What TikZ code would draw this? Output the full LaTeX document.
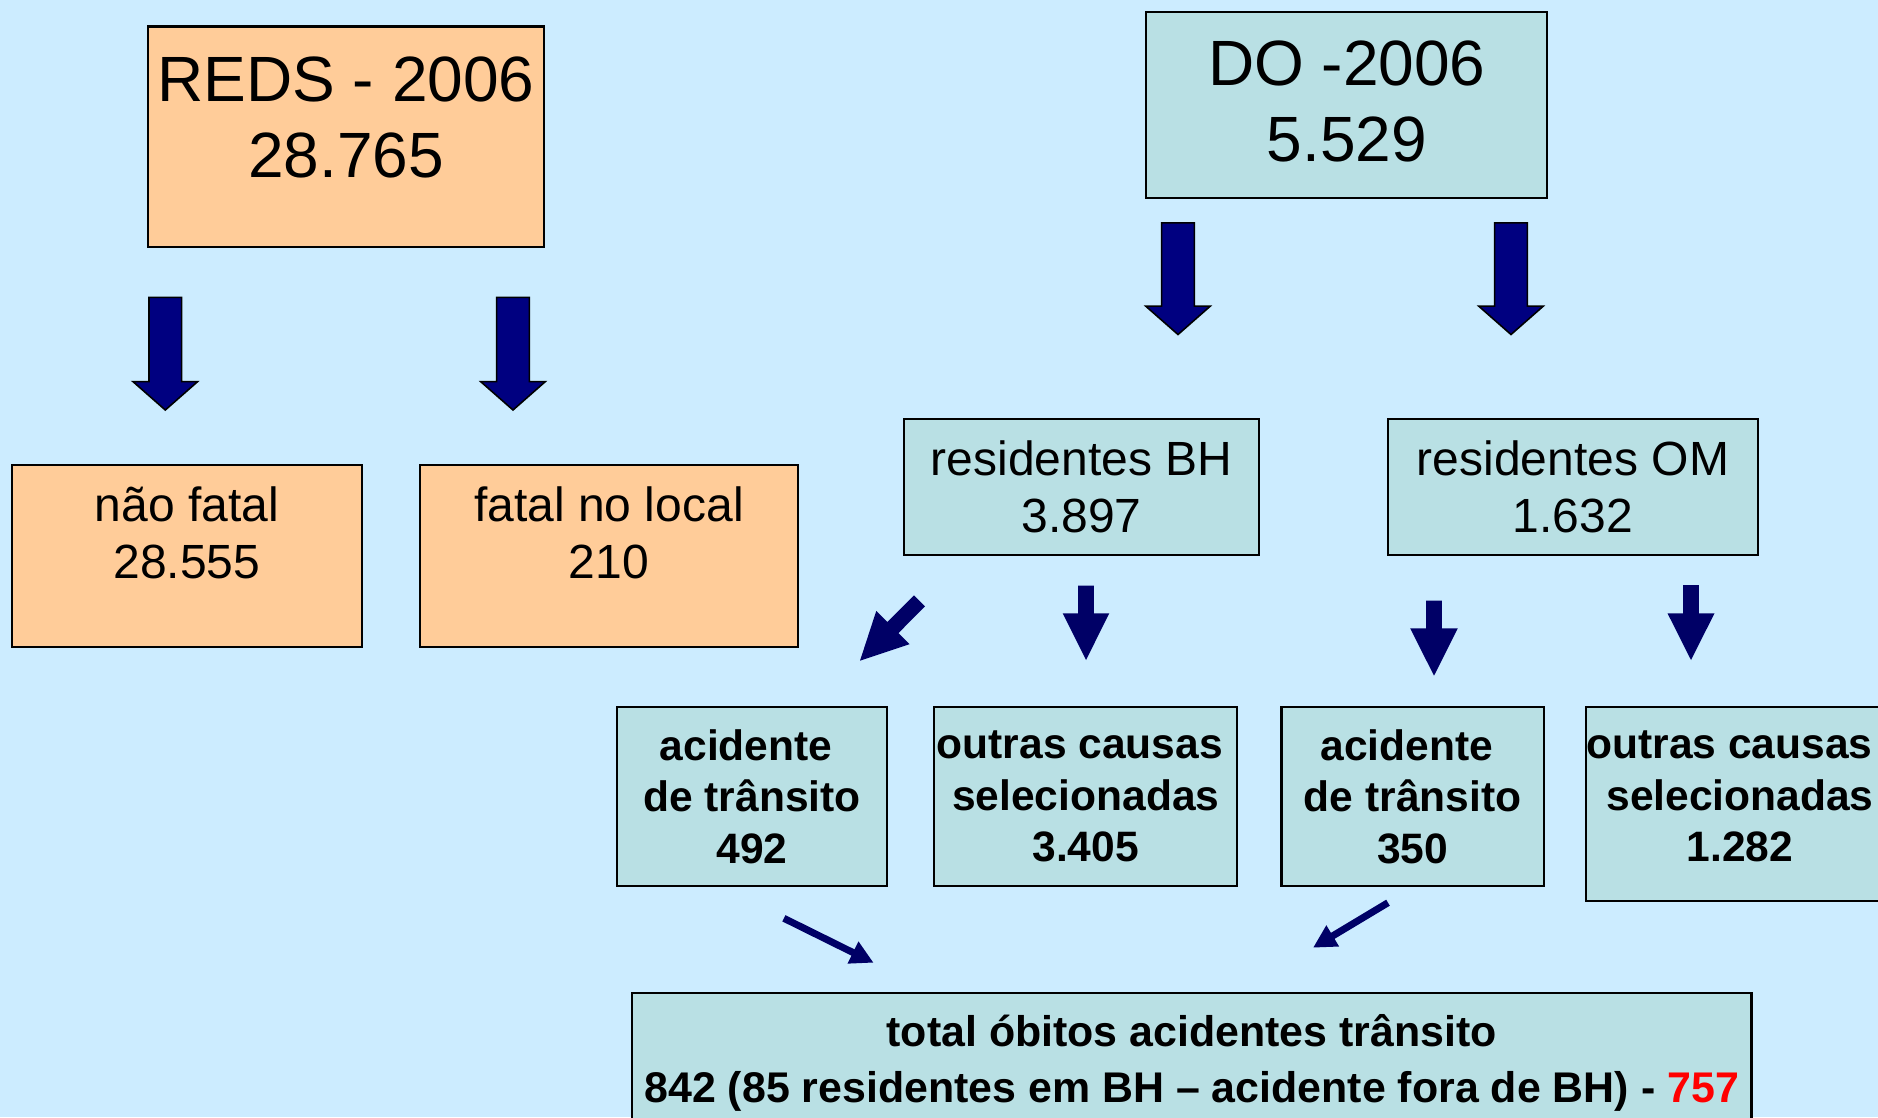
\documentclass[tikz,border=0pt]{standalone}
\usepackage{fontspec}
\setmainfont{Liberation Sans}
\usetikzlibrary{positioning,calc,arrows.meta}

\definecolor{bgblue}{RGB}{204,236,255}
\definecolor{peach}{RGB}{255,204,153}
\definecolor{paleteal}{RGB}{185,224,228}
\definecolor{navyfill}{RGB}{0,0,128}
\definecolor{navydark}{RGB}{0,0,102}

% block arrow: [style]{tail}{tip}{half shaft}{half head}{head length}
\newcommand{\blockarrow}[6][]{%
  \coordinate (hb) at ($(#3)!#6!(#2)$);
  \path[#1] ($(#2)!#4!90:(#3)$) -- ($(hb)!#4!90:(#3)$) -- ($(hb)!#5!90:(#3)$) -- (#3)
    -- ($(hb)!#5!-90:(#3)$) -- ($(hb)!#4!-90:(#3)$) -- ($(#2)!#4!-90:(#3)$) -- cycle;}

\begin{document}
\begin{tikzpicture}[x=0.01cm,y=-0.01cm]
  \tikzset{box/.style={draw, line width=0.6pt, inner sep=0pt, align=center}}
  \tikzset{orangebox/.style={box, fill=peach}}
  \tikzset{tealbox/.style={box, fill=paleteal}}
  \tikzset{bigtext/.style={font=\fontsize{18.2}{21.7}\selectfont, align=center}}
  \tikzset{midtext/.style={font=\fontsize{13.65}{16.2}\selectfont, align=center}}
  \tikzset{boldtext/.style={font=\fontsize{12.1}{14.65}\selectfont\bfseries, align=center}}
  \tikzset{totaltext/.style={font=\fontsize{12.2}{15.9}\selectfont\bfseries, align=center}}
  \tikzset{bigarrow/.style={fill=navyfill, draw=black, line width=0.45pt, line join=miter}}
  \tikzset{smallarrow/.style={fill=navydark}}
  \tikzset{thinarrow/.style={draw=navydark, line width=0.07cm, -{Triangle[length=0.23cm, width=0.23cm]}}}

  \fill[bgblue] (0,0) rectangle (1878,1117);
  \clip (0,0) rectangle (1878,1117);

  % REDS side
  \node[orangebox, minimum width=3.95cm, minimum height=2.2cm] (reds) at (346,136.5) {};
  \node[bigtext, yshift=0.19cm] (redstxt) at (reds) {REDS - 2006\\28.765};
  \node[orangebox, minimum width=3.5cm, minimum height=1.82cm] (naofatal) at (186.9,555.7) {};
  \node[midtext, yshift=0.225cm] (naofataltxt) at (naofatal) {não fatal\\28.555};
  \node[orangebox, minimum width=3.77cm, minimum height=1.82cm] (fatal) at (609,555.7) {};
  \node[midtext, yshift=0.225cm] (fataltxt) at (fatal) {fatal no local\\210};

  % DO side
  \node[tealbox, minimum width=4.01cm, minimum height=1.86cm] (do) at (1346.8,104.8) {};
  \node[bigtext, yshift=0.03cm] (dotxt) at (do) {DO -2006\\5.529};
  \node[tealbox, midtext, minimum width=3.545cm, minimum height=1.355cm] (resbh) at (1081.5,486.8) {residentes BH\\3.897};
  \node[tealbox, midtext, minimum width=3.7cm, minimum height=1.355cm] (resom) at (1573,486.8) {residentes OM\\1.632};

  \node[tealbox, boldtext, minimum width=2.707cm, minimum height=1.797cm] (acbh) at (752,796.5) {acidente\kern0.28em\\de trânsito\\492};
  \node[tealbox, boldtext, minimum width=3.03cm, minimum height=1.797cm] (outbh) at (1085.7,796.5) {outras causas\kern0.28em\\selecionadas\\3.405};
  \node[tealbox, boldtext, minimum width=2.623cm, minimum height=1.797cm] (acom) at (1412.7,796.5) {acidente\kern0.28em\\de trânsito\\350};
  \node[tealbox, minimum width=3.08cm, minimum height=1.941cm] (outom) at (1740,803.7) {};
  \node[boldtext, yshift=0.072cm] (outomtxt) at (outom) {outras causas\kern0.5em\\selecionadas\\1.282};

  \node[tealbox, minimum width=11.19cm, minimum height=2.0cm] (total) at (1191.7,1093.3) {};
  \node[totaltext, yshift=0.303cm] (totaltxt) at (total) {total óbitos acidentes trânsito\\842 (85 residentes em BH \textendash{} acidente fora de BH) - \textcolor{red}{757}};

  % arrow ends
  \coordinate (ar1) at (165.3,297.3); \coordinate (ar1t) at (165.3,410);
  \coordinate (ar2) at (513,297.3);   \coordinate (ar2t) at (513,410);
  \coordinate (ad1) at (1178,222.8);  \coordinate (ad1t) at (1178,334.5);
  \coordinate (ad2) at (1511,222.8);  \coordinate (ad2t) at (1511,334.5);
  \coordinate (ab1) at (919.5,600.8); \coordinate (ab1t) at (860,660.7);
  \coordinate (ab2) at (1086,585.7);  \coordinate (ab2t) at (1086,660);
  \coordinate (ao1) at (1434,600.7);  \coordinate (ao1t) at (1434,675.7);
  \coordinate (ao2) at (1691,585);    \coordinate (ao2t) at (1691,660);
  \coordinate (at1) at (783.9,918.3); \coordinate (at1t) at (873.6,962.7);
  \coordinate (at2) at (1388,902.7);  \coordinate (at2t) at (1313,947.7);

  \blockarrow[bigarrow]{ar1}{ar1t}{0.163cm}{0.322cm}{0.283cm}
  \blockarrow[bigarrow]{ar2}{ar2t}{0.163cm}{0.322cm}{0.283cm}
  \blockarrow[bigarrow]{ad1}{ad1t}{0.163cm}{0.322cm}{0.283cm}
  \blockarrow[bigarrow]{ad2}{ad2t}{0.163cm}{0.322cm}{0.283cm}

  \blockarrow[smallarrow]{ab1}{ab1t}{0.078cm}{0.235cm}{0.467cm}
  \blockarrow[smallarrow]{ab2}{ab2t}{0.078cm}{0.233cm}{0.467cm}
  \blockarrow[smallarrow]{ao1}{ao1t}{0.078cm}{0.238cm}{0.474cm}
  \blockarrow[smallarrow]{ao2}{ao2t}{0.078cm}{0.235cm}{0.467cm}

  \draw[thinarrow] (at1) -- (at1t);
  \draw[thinarrow] (at2) -- (at2t);
\end{tikzpicture}
\end{document}
